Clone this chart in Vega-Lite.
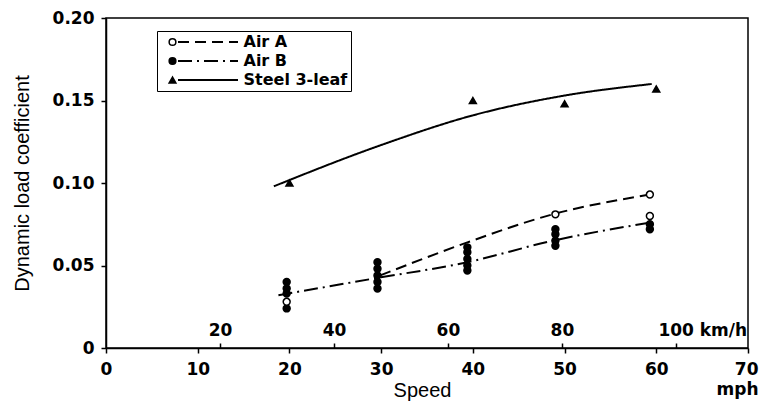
{
  "$schema": "https://vega.github.io/schema/vega-lite/v6.json",
  "width": 642,
  "height": 330,
  "autosize": "none",
  "padding": {"left": 106, "top": 18, "right": 16, "bottom": 53},
  "background": "white",
  "config": {
    "view": {"stroke": "black", "strokeWidth": 1.5},
    "axis": {"grid": false, "domainColor": "black", "domainWidth": 1.5, "tickColor": "black", "tickWidth": 1.5, "labelColor": "black", "titleColor": "black", "labelFont": "DejaVu Sans", "labelFontWeight": "bold", "labelFontSize": 17, "titleFont": "Liberation Sans", "titleFontWeight": "normal", "labelFlush": false, "labelOverlap": false}
  },
  "datasets": {
    "kmh": [{"kmh": 20}, {"kmh": 40}, {"kmh": 60}, {"kmh": 80}, {"kmh": 100}],
    "curves": [
      {"curve": "Steel 3-leaf", "mph": 18.3, "coef": 0.098},
      {"curve": "Steel 3-leaf", "mph": 30, "coef": 0.123},
      {"curve": "Steel 3-leaf", "mph": 40, "coef": 0.141},
      {"curve": "Steel 3-leaf", "mph": 50, "coef": 0.153},
      {"curve": "Steel 3-leaf", "mph": 59.5, "coef": 0.16},
      {"curve": "Air A", "mph": 29.9, "coef": 0.044},
      {"curve": "Air A", "mph": 39.4, "coef": 0.064},
      {"curve": "Air A", "mph": 48.7, "coef": 0.081},
      {"curve": "Air A", "mph": 59.3, "coef": 0.093},
      {"curve": "Air B", "mph": 18.8, "coef": 0.032},
      {"curve": "Air B", "mph": 29.1, "coef": 0.042},
      {"curve": "Air B", "mph": 39.4, "coef": 0.052},
      {"curve": "Air B", "mph": 48.7, "coef": 0.065},
      {"curve": "Air B", "mph": 59.3, "coef": 0.076}
    ],
    "points": [
      {"series": "Steel 3-leaf", "mph": 20, "coef": 0.1},
      {"series": "Steel 3-leaf", "mph": 40, "coef": 0.15},
      {"series": "Steel 3-leaf", "mph": 50, "coef": 0.148},
      {"series": "Steel 3-leaf", "mph": 60, "coef": 0.157},
      {"series": "Air B", "mph": 19.7, "coef": 0.04},
      {"series": "Air B", "mph": 19.7, "coef": 0.036},
      {"series": "Air B", "mph": 19.7, "coef": 0.033},
      {"series": "Air B", "mph": 19.7, "coef": 0.024},
      {"series": "Air B", "mph": 29.6, "coef": 0.052},
      {"series": "Air B", "mph": 29.6, "coef": 0.048},
      {"series": "Air B", "mph": 29.6, "coef": 0.044},
      {"series": "Air B", "mph": 29.6, "coef": 0.04},
      {"series": "Air B", "mph": 29.6, "coef": 0.036},
      {"series": "Air B", "mph": 39.4, "coef": 0.061},
      {"series": "Air B", "mph": 39.4, "coef": 0.058},
      {"series": "Air B", "mph": 39.4, "coef": 0.054},
      {"series": "Air B", "mph": 39.4, "coef": 0.05},
      {"series": "Air B", "mph": 39.4, "coef": 0.047},
      {"series": "Air B", "mph": 49, "coef": 0.072},
      {"series": "Air B", "mph": 49, "coef": 0.069},
      {"series": "Air B", "mph": 49, "coef": 0.065},
      {"series": "Air B", "mph": 49, "coef": 0.062},
      {"series": "Air B", "mph": 59.3, "coef": 0.075},
      {"series": "Air B", "mph": 59.3, "coef": 0.072},
      {"series": "Air A", "mph": 19.7, "coef": 0.028},
      {"series": "Air A", "mph": 49, "coef": 0.081},
      {"series": "Air A", "mph": 59.3, "coef": 0.093},
      {"series": "Air A", "mph": 59.3, "coef": 0.08}
    ]
  },
  "layer": [
    {
      "data": {"name": "kmh"},
      "mark": {"type": "point", "opacity": 0},
      "encoding": {
        "x": {
          "field": "kmh", "type": "quantitative",
          "scale": {"domain": [0, 112.65], "nice": false},
          "axis": {
            "orient": "bottom", "values": [20, 40, 60, 80, 100], "title": null, "domain": false,
            "tickSize": -5, "labelPadding": -8, "labelBaseline": "alphabetic",
            "labelExpr": "datum.value == 100 ? '100 km/h' : datum.label",
            "labelAlign": {"condition": {"test": "datum.value == 100", "value": "left"}, "value": "center"},
            "labelOffset": {"condition": {"test": "datum.value == 100", "value": -18}, "value": 0}
          }
        }
      }
    },
    {
      "encoding": {
        "x": {
          "field": "mph", "type": "quantitative",
          "scale": {"domain": [0, 70], "nice": false},
          "axis": {
            "orient": "bottom", "values": [0, 10, 20, 30, 40, 50, 60, 70], "tickSize": 5, "labelPadding": 8,
            "labelExpr": "datum.value == 70 ? ['70', 'mph'] : datum.label", "labelLineHeight": 20,
            "labelAlign": {"condition": {"test": "datum.value == 70", "value": "right"}, "value": "center"},
            "labelOffset": {"condition": {"test": "datum.value == 70", "value": 10}, "value": 0},
            "title": "Speed", "titleFontSize": 20, "titleX": 316, "titleY": 42, "titleAlign": "center", "titleBaseline": "middle"
          }
        },
        "y": {
          "field": "coef", "type": "quantitative",
          "scale": {"domain": [0, 0.2], "nice": false},
          "axis": {
            "values": [0, 0.05, 0.1, 0.15, 0.2], "tickSize": 5, "labelPadding": 7,
            "labelExpr": "datum.value == 0 ? '0' : format(datum.value, '.2f')",
            "title": "Dynamic load coefficient", "titleFontSize": 20, "titleX": -84, "titleY": 165, "titleAlign": "center", "titleBaseline": "middle", "titleAngle": -90
          }
        }
      },
      "layer": [
        {
          "data": {"name": "curves"},
          "mark": {"type": "line", "interpolate": "monotone", "color": "black", "strokeWidth": 2},
          "encoding": {
            "strokeDash": {
              "field": "curve", "type": "nominal",
              "scale": {"domain": ["Air A", "Air B", "Steel 3-leaf"], "range": [[11, 6], [14, 5, 2, 5], [1, 0]]},
              "legend": {
                "title": null, "orient": "none", "legendX": 94, "legendY": 16, "padding": 0,
                "symbolType": "M-6,0L6,0", "symbolSize": 100, "symbolStrokeWidth": 2, "symbolStrokeColor": "black",
                "labelOpacity": 0, "labelExpr": "'\u00a0'", "labelFont": "DejaVu Sans", "labelFontWeight": "bold", "labelFontSize": 16, "rowPadding": 3,
                "encode": {"symbols": {"update": {"stroke": {"value": "black"}, "fill": {"value": "transparent"}, "strokeWidth": {"value": 2}}}}
              }
            }
          }
        },
        {
          "data": {"name": "points"},
          "mark": {"type": "point", "filled": true, "stroke": "black", "strokeWidth": 1.5, "size": 48, "opacity": 1},
          "encoding": {
            "shape": {
              "field": "series", "type": "nominal",
              "scale": {"range": ["circle", "circle", "triangle-up"]},
              "legend": {
                "title": null, "orient": "none", "legendX": 51, "legendY": 13, "padding": 3,
                "strokeColor": "black", "symbolSize": 45, "symbolOffset": 4.5,
                "labelFont": "DejaVu Sans", "labelFontWeight": "bold", "labelFontSize": 16, "labelColor": "black",
                "labelOffset": 63, "rowPadding": 3,
                "encode": {"symbols": {"update": {"stroke": {"value": "black"}, "strokeWidth": {"value": 1.5}}}}
              }
            },
            "fill": {
              "field": "series", "type": "nominal",
              "scale": {"range": ["white", "black", "black"]},
              "legend": {
                "title": null, "orient": "none", "legendX": 51, "legendY": 13, "padding": 3,
                "strokeColor": "black", "symbolSize": 45, "symbolOffset": 4.5,
                "labelFont": "DejaVu Sans", "labelFontWeight": "bold", "labelFontSize": 16, "labelColor": "black",
                "labelOffset": 63, "rowPadding": 3,
                "encode": {"symbols": {"update": {"stroke": {"value": "black"}, "strokeWidth": {"value": 1.5}}}}
              }
            }
          }
        }
      ]
    }
  ],
  "resolve": {"scale": {"x": "independent"}}
}
